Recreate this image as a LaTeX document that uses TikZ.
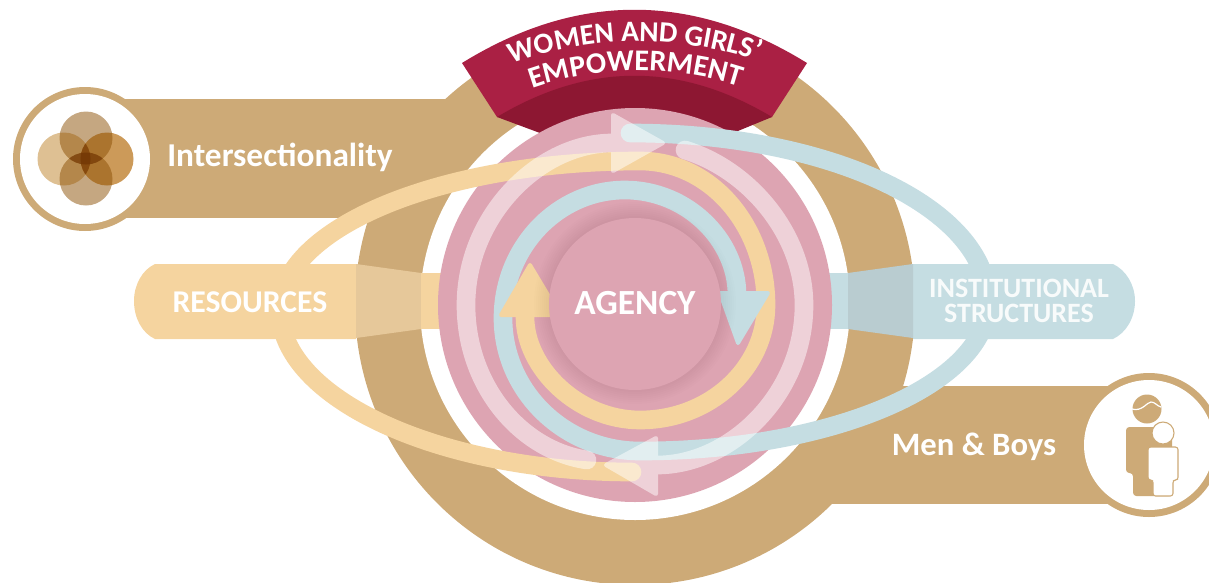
\documentclass[tikz,border=0pt]{standalone}
\usepackage{fontspec}
\setmainfont{Carlito}
\usetikzlibrary{decorations.text}
\definecolor{tan}{HTML}{CDAA77}
\definecolor{banner}{HTML}{AA2044}
\definecolor{bannerdark}{HTML}{8D1732}
\definecolor{pinkc}{HTML}{DDA4B2}
\definecolor{orangec}{HTML}{F5D49F}
\definecolor{bluec}{HTML}{C5DDE2}
\definecolor{orangeover}{HTML}{E6C89A}
\definecolor{blueover}{HTML}{B9CCD0}
\definecolor{petalleft}{RGB}{190,130,40}
\definecolor{petalright}{RGB}{178,100,0}
\definecolor{petalmid}{RGB}{140,80,5}
\definecolor{petalcore}{RGB}{110,50,5}
\newcommand{\fsz}[1]{\fontsize{#1}{#1}\selectfont\bfseries}
\tikzset{
  band/.style={line width=14pt,line cap=round,line join=round},
  headtip/.style={line width=3pt,line join=round},
  label/.style={text=white,align=center,inner sep=0pt},
  whitedisc/.style={fill=white},
  curved/.style={decorate,decoration={text along path,text align=center,text color=white,text={#1}}}
}
\begin{document}
\begin{tikzpicture}[x=0.75pt,y=-0.75pt]
\useasboundingbox (0,0) rectangle (1209,582);
\clip (0,0) rectangle (1209,582);
% tan bars and ring
\fill[tan] (635,305) circle (280);
\fill[tan] (100,99) rectangle (450,218);
\fill[tan] (820,386) rectangle (1120,504);
\fill[whitedisc] (635,305) circle (215);
% badge left
\fill[tan] (85,159) circle (72);
\fill[whitedisc] (85,159) circle (65);
\fill[petalleft,fill opacity=.5] (64,159) circle (26.5);
\fill[petalright,fill opacity=.65] (107,159) circle (26.5);
\fill[petalmid,fill opacity=.5] (86,138) circle (26.5);
\fill[petalmid,fill opacity=.5] (86,179) circle (26.5);
\begin{scope}
\clip (86,138) circle (26.5);
\clip (86,179) circle (26.5);
\fill[petalcore,fill opacity=.55] (55,140) rectangle (115,178);
\end{scope}
\begin{scope}
\clip (64,159) circle (26.5);
\clip (107,159) circle (26.5);
\fill[petalcore,fill opacity=.55] (70,125) rectangle (100,195);
\end{scope}
% badge right
\fill[tan] (1149,445) circle (72);
\fill[whitedisc] (1149,445) circle (65);
\fill[tan] (1147,409) circle (14.5);
\draw[white,line width=.9pt] (1132,409) .. controls (1142,412) and (1147,402) .. (1151,402) .. controls (1155,402) and (1157,406) .. (1161,407);
\fill[tan,rounded corners=2.5pt] (1126,427) -- (1172,427) -- (1172,496) -- (1133,496) -- (1133,473) -- (1126,473) -- cycle;
\draw[tan,fill=white,line width=.8pt] (1163,433) circle (11);
\draw[tan,fill=white,line width=.8pt,rounded corners=2pt] (1148,447) -- (1178,447) -- (1178,480) -- (1173,480) -- (1173,496) -- (1153,496) -- (1153,480) -- (1148,480) -- cycle;
% pills
\fill[orangec] (155,264) .. controls (142,270) and (134,285) .. (134,301) .. controls (134,318) and (142,333) .. (155,339) -- (356,339) -- (356,264) -- cycle;
\fill[orangeover] (356,264) -- (421,273) -- (421,329) -- (356,338) -- cycle;
\fill[orangec] (421,273) rectangle (445,329);
\fill[bluec] (1113,264) .. controls (1126,270) and (1135,285) .. (1135,301) .. controls (1135,318) and (1126,333) .. (1113,339) -- (913,339) -- (913,264) -- cycle;
\fill[blueover] (913,264) -- (848,273) -- (848,329) -- (913,338) -- cycle;
\fill[bluec] (848,273) rectangle (825,329);
% banner
\fill[banner] (462,63) .. controls (577,-8) and (692,-8) .. (807,63) -- (772,117) -- (497,117) -- cycle;
\fill[bannerdark] (497,117) .. controls (589,62) and (680,62) .. (772,117) -- (733,133) -- (540,133) -- cycle;
% pink disc
\fill[pinkc] (635,305) circle (197);
% blue path
\draw[bluec,band] (630,133) .. controls (832,133) and (988,209) .. (988,302) .. controls (988,384) and (832,451) .. (640,451) .. controls (564,451) and (503,391) .. (503,318) .. controls (503,247) and (558,190) .. (625,190) .. controls (687,190) and (737,240) .. (737,295);
% orange path
\draw[orangec,band] (632,472) .. controls (441,472) and (280,399) .. (280,310) .. controls (280,228) and (441,161) .. (640,161) .. controls (710,161) and (766,225) .. (766,305) .. controls (766,368) and (710,420) .. (640,420) .. controls (578,420) and (525,368) .. (525,317);
\filldraw[orangec,headtip] (530,265) -- (501,315) -- (560,315) -- cycle;
\filldraw[bluec,headtip] (720,293) -- (768,293) -- (738,343) -- cycle;
% agency disc with shadow
\foreach \r in {87,89,...,101}{\fill[black,fill opacity=.008] (635,303) circle (\r);}
\fill[pinkc] (635,304) circle (86);
% pale spiral
\begin{scope}[transparency group,opacity=.5]
\draw[white,line width=14pt,line join=round,line cap=round] (587,460) .. controls (520,450) and (466,385) .. (466,305) .. controls (466,215) and (540,143) .. (612,143);
\filldraw[white,headtip] (613,115) -- (663,143) -- (613,171) -- cycle;
\draw[white,line width=14pt,line join=round,line cap=round] (685,150) .. controls (750,170) and (804,235) .. (804,305) .. controls (804,395) and (730,465) .. (657,465);
\filldraw[white,headtip] (656,438) -- (606,465) -- (656,494) -- cycle;
\end{scope}
% labels
\node[label] (intersect) at (280,157) {\fsz{25}Intersectionality};
\node[label] (men) at (974,447) {\fsz{24.5}Men \& Boys};
\node[label] (resources) at (250,302) {\fsz{23.8}RESOURCES};
\node[label,text=white!88!bluec] (inst) at (1019,301) {\fsz{21}INSTITUTIONAL\\[3.75pt]\fsz{21}STRUCTURES};
\node[label] (agency) at (635,303) {\fsz{26.5}AGENCY};
\path[curved={|\fsz{22}|WOMEN AND GIRLS’}] (500,68) .. controls (590,33) and (680,33) .. (770,65);
\path[curved={|\fsz{22.5}|EMPOWERMENT}] (522,92) .. controls (590,64) and (680,64) .. (750,90);
\end{tikzpicture}
\end{document}
